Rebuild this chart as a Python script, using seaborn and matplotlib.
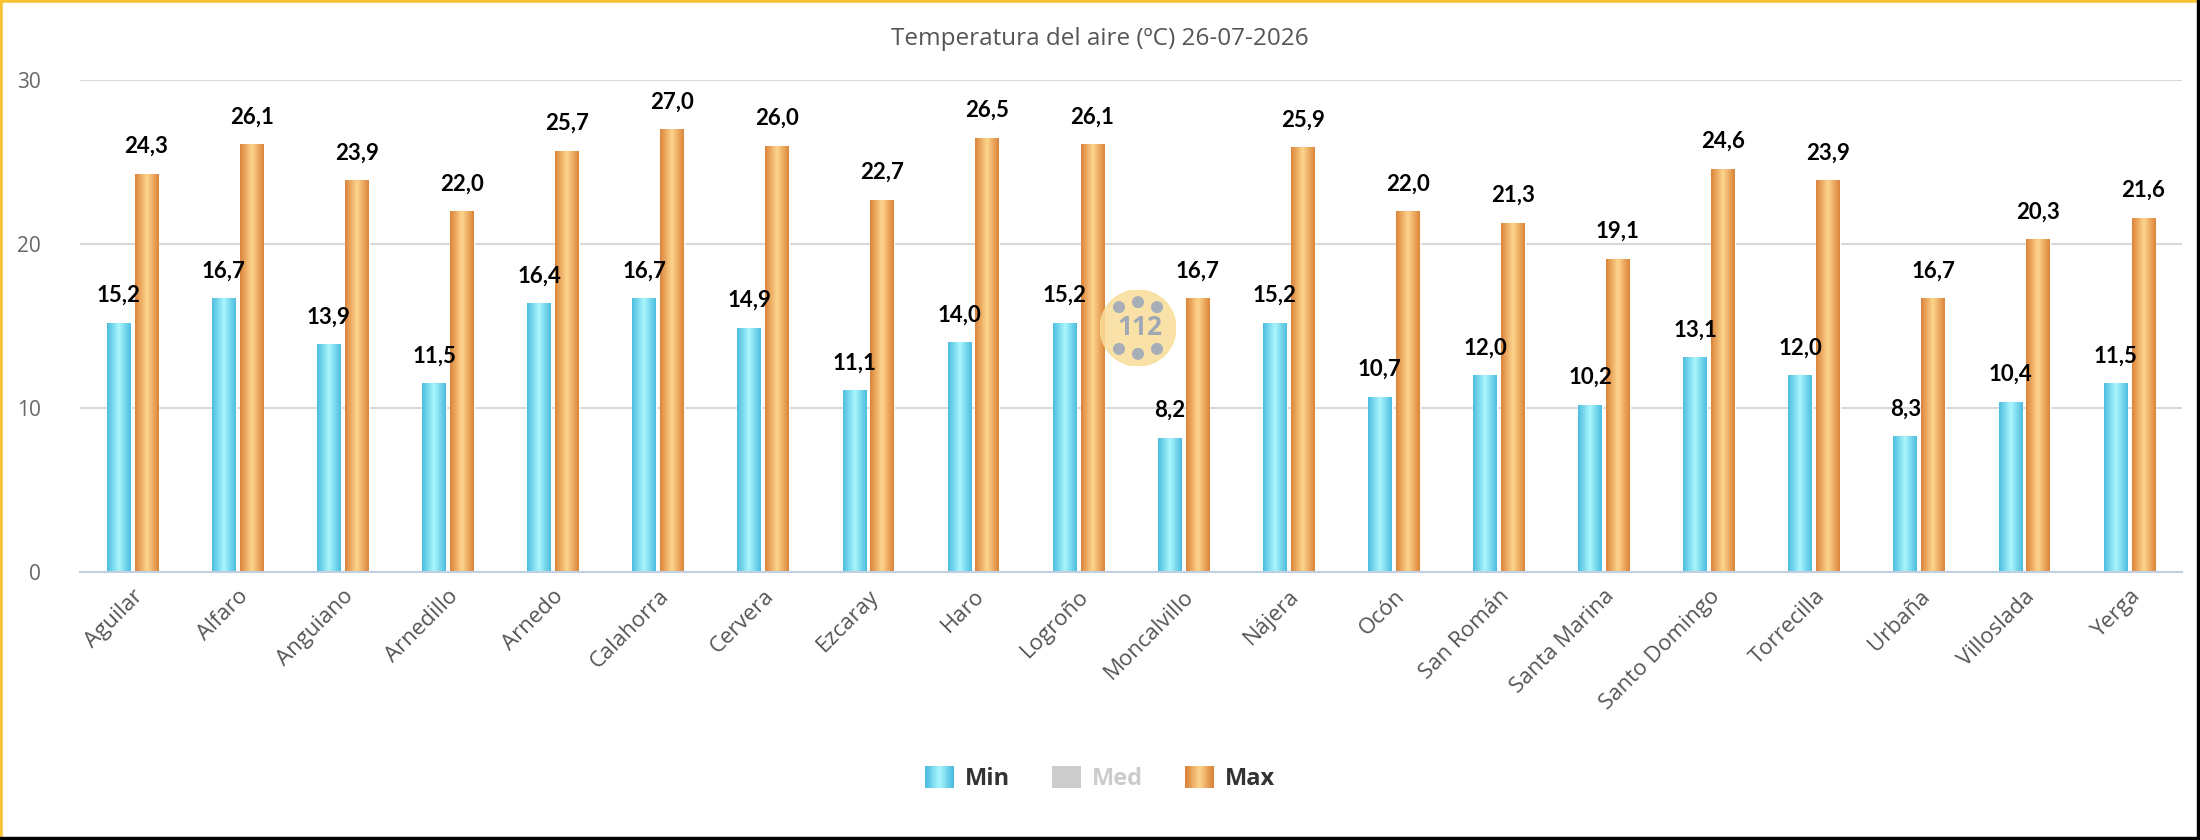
import numpy as np
import pandas as pd
import seaborn as sns
import matplotlib
matplotlib.use('Agg')
from matplotlib import pyplot as plt
from matplotlib.colors import LinearSegmentedColormap
from matplotlib.legend_handler import HandlerBase
from matplotlib.patches import Patch, Rectangle, Circle

estaciones = ['Aguilar', 'Alfaro', 'Anguiano', 'Arnedillo', 'Arnedo', 'Calahorra', 'Cervera',
              'Ezcaray', 'Haro', 'Logroño', 'Moncalvillo', 'Nájera', 'Ocón', 'San Román',
              'Santa Marina', 'Santo Domingo', 'Torrecilla', 'Urbaña', 'Villoslada', 'Yerga']
t_min = [15.2, 16.7, 13.9, 11.5, 16.4, 16.7, 14.9, 11.1, 14.0, 15.2,
         8.2, 15.2, 10.7, 12.0, 10.2, 13.1, 12.0, 8.3, 10.4, 11.5]
t_max = [24.3, 26.1, 23.9, 22.0, 25.7, 27.0, 26.0, 22.7, 26.5, 26.1,
         16.7, 25.9, 22.0, 21.3, 19.1, 24.6, 23.9, 16.7, 20.3, 21.6]
series = ['Min', 'Med', 'Max']
y_ticks = [0, 10, 20, 30]
titulo = 'Temperatura del aire (ºC) 26-07-2026'

df = pd.concat([
    pd.DataFrame({'estacion': estaciones, 'serie': 'Min', 'valor': t_min}),
    pd.DataFrame({'estacion': estaciones, 'serie': 'Max', 'valor': t_max}),
])

sns.set_theme(style='white')
plt.rcParams['font.family'] = ['Open Sans', 'DejaVu Sans']

# edge / centre colours of the gradient bars
grad = {'Min': ('#4dbde0', '#aaf6fd'), 'Max': ('#dc853b', '#fdd58d'), 'Med': ('#cccccc', '#cccccc')}
colores = {'Min': '#6fd3ee', 'Max': '#eba45e'}
cmaps = {k: LinearSegmentedColormap.from_list(k, [v[0], v[1], v[0]]) for k, v in grad.items()}


class GradHandler(HandlerBase):
    # legend square drawn as thin vertical stripes
    def create_artists(self, legend, orig_handle, xdescent, ydescent, width, height, fontsize, trans):
        cmap = cmaps[orig_handle.get_label()]
        n = 16
        out = []
        for i in range(n):
            out.append(Rectangle((-xdescent + i * width / n, -ydescent), width / n + 0.3, height,
                                 facecolor=cmap(i / (n - 1)), edgecolor='none', transform=trans))
        return out


fig = plt.figure(figsize=(22, 8.4), dpi=100)
ax = fig.add_axes([0.0364, 0.319, 0.9554, 0.5856])

sns.barplot(data=df, x='estacion', y='valor', hue='serie', palette=colores,
            width=0.53, gap=0.15, ax=ax, legend=False, saturation=1)

# gradient fill per bar
for cont, serie in zip(ax.containers, ['Min', 'Max']):
    for p in cont:
        x0, w, h = p.get_x(), p.get_width(), p.get_height()
        im = ax.imshow(np.linspace(0, 1, 64).reshape(1, -1), cmap=cmaps[serie], aspect='auto',
                       extent=[x0, x0 + w, 0, h], zorder=2)
        im.set_clip_path(p)
    ax.bar_label(cont, labels=[f'{v:.1f}'.replace('.', ',') for v in cont.datavalues],
                 padding=12, fontsize=16, fontweight='bold', color='black',
                 family=['Lato', 'DejaVu Sans'], zorder=5)
ax.set_ylim(0, 30)
ax.set_xlim(-0.5, len(estaciones) - 0.5)

# grid + axes styling
ax.set_yticks(y_ticks)
ax.yaxis.grid(True, color='#d8d8d8', linewidth=1.5)
ax.set_axisbelow(True)
for s in ['top', 'right', 'left']:
    ax.spines[s].set_visible(False)
ax.spines['bottom'].set_color('#c0d0e0')
ax.spines['bottom'].set_linewidth(1.5)
ax.spines['bottom'].set_zorder(6)
ax.tick_params(axis='y', length=0, pad=28, labelsize=15, labelcolor='#666666')
ax.set_xticks(range(len(estaciones)))
ax.set_xticklabels(estaciones, rotation=45, ha='right', rotation_mode='anchor',
                   fontsize=16, color='#555555')
ax.tick_params(axis='x', which='major', length=0, pad=10)
ax.set_xticks(np.arange(-0.5, len(estaciones)), minor=True)
ax.tick_params(axis='x', which='minor', length=12, width=1.5, color='#c0d0e0')
ax.set_xlabel('')
ax.set_ylabel('')

fig.text(0.5, 0.953, titulo, ha='center', va='center', fontsize=17.5, color='#555555')

# legend (Med hidden series shown greyed)
handles = [Patch(label=s) for s in series]
leg = fig.legend(handles, series, loc='center', bbox_to_anchor=(0.5, 0.073), ncol=3,
                 frameon=False, handlelength=1.2, handleheight=1.05,
                 columnspacing=1.8, handletextpad=0.47, prop={'weight': 'bold', 'size': 17},
                 handler_map={Patch: GradHandler()})
for t, c in zip(leg.get_texts(), ['#333333', '#cccccc', '#333333']):
    t.set_color(c)

# 112 watermark
wm = fig.add_axes([1100 / 2200, 1 - 376 / 840, 76 / 2200, 96 / 840])
wm.set_xlim(-1, 1)
wm.set_ylim(-1, 1)
wm.set_aspect('equal')
wm.axis('off')
wm.add_patch(Circle((0, 0), 1, color='#f9dc98', alpha=0.85))
for dx, dy in [(-0.5, 0.55), (0, 0.68), (0.5, 0.55), (-0.5, -0.55), (0, -0.68), (0.5, -0.55)]:
    wm.add_patch(Circle((dx, dy), 0.14, color='#a7aeb8'))
wm.text(0.05, 0.02, '112', ha='center', va='center', fontsize=19, fontweight='bold', color='#a0a8b6')

# frame
fig.patches.append(Rectangle((0, 0), 1, 1, transform=fig.transFigure, fill=False,
                             edgecolor='#f7c331', linewidth=4))
fig.patches.append(Rectangle((2197 / 2200, 0), 3 / 2200, 1, transform=fig.transFigure,
                             color='black'))
fig.patches.append(Rectangle((0, 0), 1, 3 / 840, transform=fig.transFigure, color='black'))

fig.savefig('out.png', dpi=100)
plt.close('all')
